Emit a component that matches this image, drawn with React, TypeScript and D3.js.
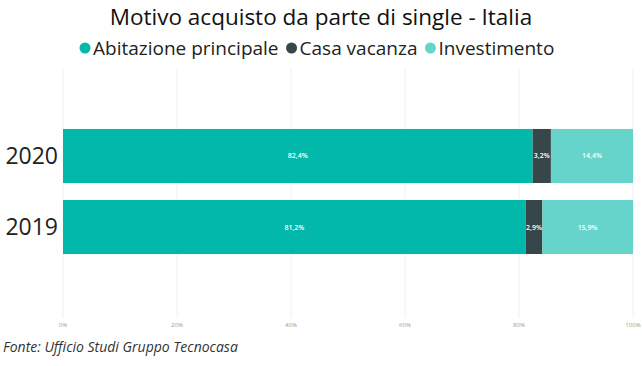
import { useEffect, useRef } from 'react';
import * as d3 from 'd3';

const years = ['2020', '2019'];
const abitazione = [82.4, 81.2];
const casaVacanza = [3.2, 2.9];
const investimento = [14.4, 15.9];
const seriesNames = ['Abitazione principale', 'Casa vacanza', 'Investimento'];
const colors = ['#01B8AA', '#374649', '#66D4CA'];
const ticks = [0, 20, 40, 60, 80, 100];

const W = 642;
const H = 366;
const font = "'Open Sans', 'Noto Sans', sans-serif";

const App = () => {
  const ref = useRef<SVGSVGElement>(null);

  useEffect(() => {
    const svg = d3.select(ref.current);
    svg.selectAll('*').remove();

    const x = d3.scaleLinear().domain([0, 100]).range([63, 633]);
    const y = d3
      .scaleBand()
      .domain(years)
      .range([112, 271])
      .paddingInner(0.239)
      .paddingOuter(0.239);

    // gridlines
    svg
      .append('g')
      .selectAll('line')
      .data(ticks)
      .join('line')
      .attr('x1', (d) => x(d))
      .attr('x2', (d) => x(d))
      .attr('y1', 68)
      .attr('y2', 318)
      .attr('stroke', '#f0f0f0')
      .attr('stroke-width', 1);

    // tick labels
    svg
      .append('g')
      .selectAll('text')
      .data(ticks)
      .join('text')
      .attr('x', (d) => x(d))
      .attr('y', 327)
      .attr('text-anchor', 'middle')
      .attr('font-family', font)
      .attr('font-size', 6)
      .attr('fill', '#999')
      .text((d) => `${d}%`);

    const series = [abitazione, casaVacanza, investimento];
    years.forEach((yr, i) => {
      let acc = 0;
      series.forEach((s, k) => {
        const v = s[i];
        const x0 = x(acc);
        const x1 = x(acc + v);
        acc += v;
        svg
          .append('rect')
          .attr('x', x0)
          .attr('y', y(yr)!)
          .attr('width', x1 - x0)
          .attr('height', y.bandwidth())
          .attr('fill', colors[k]);
        svg
          .append('text')
          .attr('x', (x0 + x1) / 2)
          .attr('y', y(yr)! + y.bandwidth() / 2 + 2.5)
          .attr('text-anchor', 'middle')
          .attr('font-family', font)
          .attr('font-size', 7)
          .attr('font-weight', 600)
          .attr('fill', '#fff')
          .text(v.toFixed(1).replace('.', ',') + '%');
      });
      svg
        .append('text')
        .attr('x', 58)
        .attr('y', y(yr)! + y.bandwidth() / 2 + 8)
        .attr('text-anchor', 'end')
        .attr('font-family', font)
        .attr('font-size', 23)
        .attr('fill', '#222')
        .text(yr);
    });

    // title
    svg
      .append('text')
      .attr('x', 321)
      .attr('y', 25)
      .attr('text-anchor', 'middle')
      .attr('font-family', font)
      .attr('font-size', 22.5)
      .attr('fill', '#111')
      .text('Motivo acquisto da parte di single - Italia');

    // legend, laid out one item after another
    const legend = svg.append('g').attr('transform', 'translate(0,48)');
    let cx = 85;
    seriesNames.forEach((name, k) => {
      legend
        .append('circle')
        .attr('cx', cx)
        .attr('cy', 0)
        .attr('r', 5.5)
        .attr('fill', colors[k]);
      const t = legend
        .append('text')
        .attr('x', cx + 8)
        .attr('y', 7)
        .attr('font-family', font)
        .attr('font-size', 19)
        .attr('fill', '#222')
        .text(name);
      const len = (t.node() as SVGTextElement).getComputedTextLength();
      cx = cx + 8 + len + 13;
    });

    // source
    svg
      .append('text')
      .attr('x', 3)
      .attr('y', 352)
      .attr('font-family', font)
      .attr('font-size', 14)
      .attr('font-style', 'italic')
      .attr('fill', '#333')
      .text('Fonte: Ufficio Studi Gruppo Tecnocasa');
  }, []);

  return <svg ref={ref} width={W} height={H} style={{ position: 'absolute', left: 0, top: 0, background: '#fff' }} />;
};

export default App;
